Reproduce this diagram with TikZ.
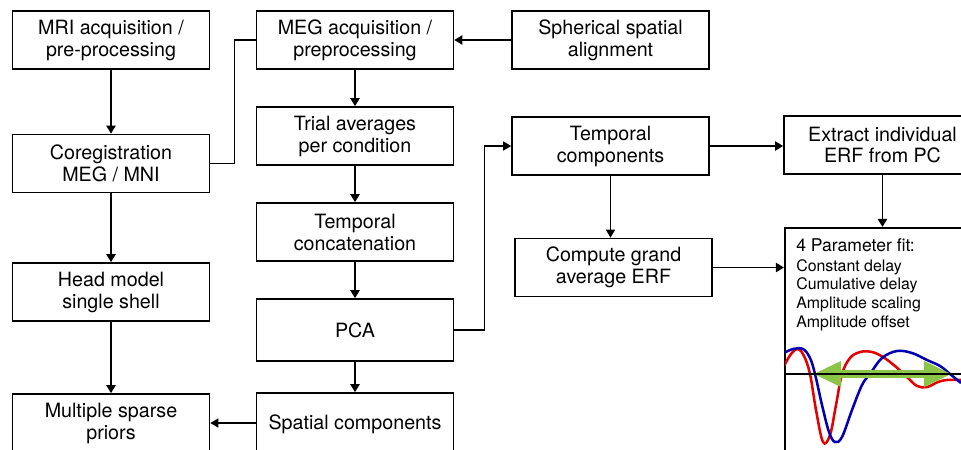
\documentclass[tikz,border=0pt]{standalone}
\usepackage{fontspec}
\setmainfont{TeX Gyre Heros}
\usetikzlibrary{arrows.meta}

\begin{document}
\begin{tikzpicture}[x=0.025cm,y=-0.025cm]
  % Colors
  \colorlet{meancolor}{red!90!black}
  \colorlet{pccolor}{blue!70!black}
  \definecolor{shiftcolor}{RGB}{140,196,72}

  % Styles
  \tikzset{
    box/.style={draw,line width=1.1pt,minimum width=4.925cm,minimum height=1.45cm,
      inner sep=0pt,align=center,font=\fontsize{14}{15.6}\selectfont},
    flow/.style={line width=1.4pt,-{Triangle[length=5.7pt,width=6.4pt]}},
    link/.style={line width=0.8pt,-{Triangle[length=5.7pt,width=6.4pt]}},
    wire/.style={line width=0.9pt},
    wave/.style={line width=1.8pt,smooth,tension=0.6}
  }

  \useasboundingbox (0,0) rectangle (961,449);
  \clip (0,0) rectangle (961,449);

  % Left column
  \node[box] (mri)   at (111,40)    {MRI acquisition /\\pre-processing};
  \node[box] (coreg) at (111,163.5) {Coregistration\\MEG / MNI};
  \node[box] (head)  at (111,292)   {Head model\\single shell};
  \node[box] (msp)   at (111,423)   {Multiple sparse\\priors};

  % Middle column
  \node[box] (meg)     at (355,40)  {MEG acquisition /\\preprocessing};
  \node[box] (trial)   at (355,136) {Trial averages\\per condition};
  \node[box] (concat)  at (355,232) {Temporal\\concatenation};
  \node[box,minimum height=1.55cm] (pca) at (355,330) {PCA};
  \node[box,minimum height=1.55cm] (spatial) at (355,424) {Spatial components};

  % Right columns
  \node[box] (align)   at (610.5,40)  {Spherical spatial\\alignment};
  \node[box] (tcomp)   at (610.5,146) {Temporal\\components};
  \node[box] (grand)   at (613.5,267.5) {Compute grand\\average ERF};
  \node[box] (extract) at (882.5,145) {Extract individual\\ERF from PC};
  \node[box,anchor=north west,minimum height=6cm] (pfit) at (784,227) {};

  \node[anchor=base west,inner sep=0pt,align=left,
        font=\fontsize{11.3}{13.2}\selectfont] (fittext) at (796,327)
    {{\fontsize{12.5}{13.2}\selectfont 4 Parameter fit:}\\[1pt]
     Constant delay\\Cumulative delay\\Amplitude scaling\\Amplitude offset};

  % Waveforms
  \begin{scope}
    \clip (785,330) rectangle (961,449);
    \draw[wave,meancolor] plot coordinates {(784,366) (791,354) (798,349)
      (804,356) (810,374) (816,410) (823,442) (830,435) (836,405) (842,374)
      (850,358) (860,352) (872,352) (883,357) (895,366) (907,377) (917,386)
      (927,387) (938,382) (947,380) (961,380)};
    \draw[wave,pccolor] plot coordinates {(784,353) (793,349) (803,349)
      (810,358) (815,374) (822,405) (829,432) (835,442) (842,437) (852,410)
      (862,385) (870,374) (882,358) (897,351) (912,353) (927,360) (940,366)
      (950,374) (961,383)};
    \coordinate (shl) at (813,374);
    \coordinate (shr) at (952,374);
    \draw[shiftcolor,line width=5pt,
      {Triangle[length=20pt,width=17pt]}-{Triangle[length=20pt,width=17pt]}]
      (shl) -- (shr);
    \coordinate (axl) at (784,374);
    \coordinate (axr) at (961,374);
    \draw[line width=1.4pt] (axl) -- (axr);
  \end{scope}

  % Connections
  \draw[flow] (mri) -- (coreg);
  \draw[flow] (coreg) -- (head);
  \draw[flow] (head) -- (msp);
  \draw[wire] (coreg.east) -- ++(24,0) |- (meg.west);

  \draw[flow] (align) -- (meg);
  \draw[flow] (meg) -- (trial);
  \draw[flow] (trial) -- (concat);
  \draw[flow] (concat) -- (pca);
  \draw[flow] (pca) -- (spatial);
  \draw[link] (spatial.west |- msp.east) -- (msp.east);

  \draw[link] (pca.east) -- ++(30,0) |- (tcomp.west);
  \draw[flow] (tcomp.east) -- (tcomp.east -| extract.west);
  \draw[link] (tcomp.south) -- (tcomp.south |- grand.north);
  \draw[flow] (extract.south) -- (extract.south |- pfit.north);
  \draw[flow] (grand.east) -- (grand.east -| pfit.west);
\end{tikzpicture}
\end{document}
